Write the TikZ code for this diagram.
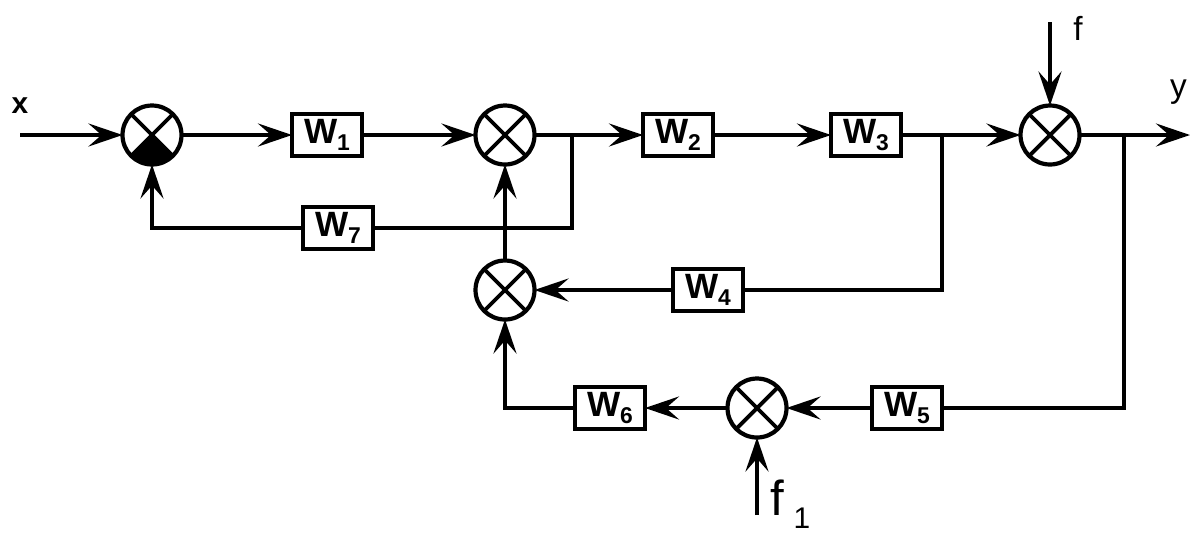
\documentclass[tikz,border=0pt]{standalone}
\usepackage{fontspec}
\setmainfont{Liberation Sans}
\usetikzlibrary{arrows.meta}
\begin{document}
\begin{tikzpicture}[x=0.02cm,y=-0.02cm,
  line width=2.4pt,
  >={Stealth[length=0.68cm,width=0.46cm,inset=0.26cm]},
  sumj/.style={circle,draw,minimum size=1.18cm,inner sep=0pt,outer sep=0pt,
    path picture={\draw[line width=2.2pt] (path picture bounding box.south west)--(path picture bounding box.north east) (path picture bounding box.north west)--(path picture bounding box.south east);}},
  sumfill/.style={circle,draw,minimum size=1.18cm,inner sep=0pt,outer sep=0pt,
    path picture={\fill (path picture bounding box.center)--(path picture bounding box.south west)--(path picture bounding box.south east)--cycle;
      \draw[line width=2.2pt] (path picture bounding box.south west)--(path picture bounding box.north east) (path picture bounding box.north west)--(path picture bounding box.south east);}},
  blk/.style={draw,line width=2.2pt,minimum width=1.4cm,minimum height=0.84cm,inner sep=0pt,outer sep=0pt,font=\fontsize{20}{20}\selectfont\bfseries},
  lbl/.style={inner sep=0pt}]
\useasboundingbox (0,0) rectangle (1190,535);
\newcommand{\wsub}[1]{W\raisebox{-0.4ex}{\fontsize{13}{13}\selectfont #1}}
% summing junctions
\node[sumfill] (s1) at (152,135) {};
\node[sumj] (s2) at (505,135) {};
\node[sumj] (s3) at (1050,135) {};
\node[sumj] (s4) at (505,290) {};
\node[sumj] (s5) at (757,408) {};
% blocks
\node[blk] (w1) at (327,135) {\wsub{1}};
\node[blk] (w2) at (678,135) {\wsub{2}};
\node[blk] (w3) at (866,135) {\wsub{3}};
\node[blk] (w4) at (708,290) {\wsub{4}};
\node[blk] (w5) at (907,408) {\wsub{5}};
\node[blk] (w6) at (610,408) {\wsub{6}};
\node[blk] (w7) at (338,228) {\wsub{7}};
% labels
\node[lbl,font=\fontsize{17}{17}\selectfont\bfseries] (lx) at (20,106) {x};
\node[lbl,font=\fontsize{19}{19}\selectfont] (lf) at (1078,28) {f};
\node[lbl,font=\fontsize{19}{19}\selectfont,anchor=east] (ly) at (1189,92) {y};
\node[lbl,font=\fontsize{28}{28}\selectfont,anchor=south west] (lf1) at (768,531) {f\hspace{0.2em}\raisebox{-0.5ex}{\fontsize{17}{17}\selectfont 1}};
% free ends
\coordinate (in) at (20,135);
\coordinate (fin) at (1050,22);
\coordinate (out) at (1190,135);
\coordinate (fin1) at (757,515);
\coordinate (b2) at (572,135);
\coordinate (b3) at (942,135);
\coordinate (b4) at (1124,135);
% forward path
\draw[->] (in) -- (s1);
\draw[->] (s1) -- (w1);
\draw[->] (w1) -- (s2);
\draw[->] (s2) -- (w2);
\draw[->] (w2) -- (w3);
\draw[->] (w3) -- (s3);
\draw[->] (fin) -- (s3);
\draw[->] (s3) -- (out);
% feedback W7
\draw (b2) |- (w7);
\draw[->] (w7) -| (s1);
% feedback W4
\draw (b3) |- (w4);
\draw[->] (w4) -- (s4);
\draw[->] (s4) -- (s2);
% feedback W5, W6
\draw (b4) |- (w5);
\draw[->] (w5) -- (s5);
\draw[->] (s5) -- (w6);
\draw[->] (w6) -| (s4);
\draw[->] (fin1) -- (s5);
\end{tikzpicture}
\end{document}
